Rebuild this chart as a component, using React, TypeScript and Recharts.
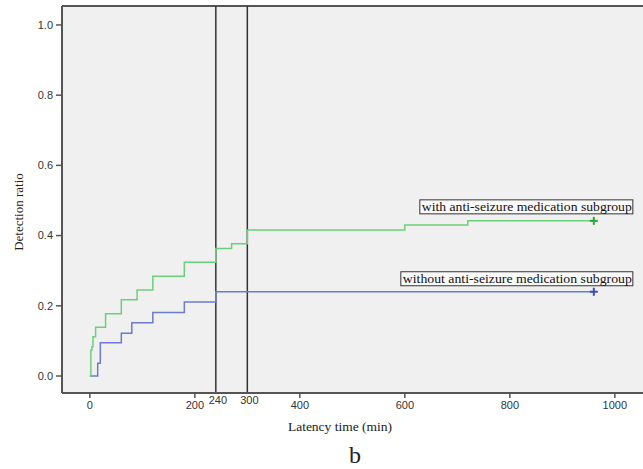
import { ComposedChart, Line, XAxis, YAxis, CartesianGrid, ReferenceLine, ReferenceDot } from "recharts";

// Kaplan-Meier style cumulative detection
const withMedTimes = [0, 2, 4, 6, 11, 30, 60, 90, 120, 180, 240, 270, 300, 600, 720, 960];
const withMedRatio = [0, 0.074, 0.083, 0.112, 0.139, 0.177, 0.217, 0.245, 0.284, 0.324, 0.363, 0.377, 0.416, 0.43, 0.442, 0.442];
const withoutMedTimes = [0, 15, 20, 60, 80, 120, 180, 240, 960];
const withoutMedRatio = [0, 0.036, 0.095, 0.122, 0.152, 0.181, 0.211, 0.24, 0.24];

const xTicks = [0, 200, 240, 300, 400, 600, 800, 1000];
const markedTimes = [240, 300];
const yTicks = [0, 0.2, 0.4, 0.6, 0.8, 1.0];

const X_MIN = -53;
const X_MAX = 1067;
const Y_MIN = -0.0484;
const Y_MAX = 1.054;

const withMed = withMedTimes.map((t, i) => ({ t, r: withMedRatio[i] }));
const withoutMed = withoutMedTimes.map((t, i) => ({ t, r: withoutMedRatio[i] }));

const GREEN = "#6ccf7a";
const GREEN_DARK = "#2aa83a";
const BLUE = "#6a7ccb";
const BLUE_DARK = "#3a4fb0";
const AXIS = "#555";

const censorDot = (len: number, color: string) => (p: any) => {
  if (p.index !== len - 1) return <g key={p.index} />;
  return (
    <g key={p.index} stroke={color} strokeWidth={2}>
      <line x1={p.cx - 4} x2={p.cx + 4} y1={p.cy} y2={p.cy} />
      <line x1={p.cx} x2={p.cx} y1={p.cy - 4} y2={p.cy + 4} />
    </g>
  );
};

const boxLabel = (text: string, left: number, width: number, top: number) => (p: any) => (
  <g>
    <rect x={p.cx - left} y={p.cy - top} width={width} height={14} fill="#fafafa" stroke="#333" strokeWidth={1} />
    <text
      x={p.cx - left + 2}
      y={p.cy - top + 11}
      fontFamily="'Liberation Serif', serif"
      fontSize={12}
      fill="#111"
      textLength={width - 3}
      lengthAdjust="spacingAndGlyphs"
    >
      {text}
    </text>
  </g>
);

const XTick = (p: any) => {
  const v = p.payload.value;
  const marked = markedTimes.includes(v);
  return (
    <g>
      {!marked && <line x1={p.x} x2={p.x} y1={p.y} y2={p.y + 5} stroke={AXIS} strokeWidth={1.5} />}
      <text
        x={p.x + (marked ? 2 : 0)}
        y={p.y + (marked ? 11 : 16)}
        textAnchor="middle"
        fontFamily="'Liberation Sans', Arial, sans-serif"
        fontSize={11}
        fill="#333"
      >
        {v}
      </text>
    </g>
  );
};

export default function App() {
  return (
    <div style={{ position: "absolute", left: 0, top: 0, width: 643, height: 469, overflow: "hidden", background: "#fff" }}>
      <ComposedChart width={700} height={469} margin={{ top: 6, right: 50, bottom: 0, left: 0 }}>
        <CartesianGrid horizontal={false} vertical={false} fill="#f0f0f0" />
        <XAxis
          dataKey="t"
          type="number"
          domain={[X_MIN, X_MAX]}
          allowDataOverflow
          ticks={xTicks}
          interval={0}
          height={76}
          tickSize={0}
          tickMargin={0}
          tickLine={false}
          tick={<XTick />}
          axisLine={{ stroke: AXIS, strokeWidth: 2 }}
          label={{
            content: () => (
              <g fontFamily="'Liberation Serif', serif" fill="#222">
                <text x={340} y={431} textAnchor="middle" fontSize={13.5}>Latency time (min)</text>
                <text x={355} y={463} textAnchor="middle" fontSize={24}>b</text>
              </g>
            ),
          }}
        />
        <YAxis
          type="number"
          domain={[Y_MIN, Y_MAX]}
          allowDataOverflow
          ticks={yTicks}
          interval={0}
          width={62}
          tickSize={6}
          tickMargin={3}
          tickFormatter={(v: number) => v.toFixed(1)}
          tick={{ fontFamily: "'Liberation Sans', Arial, sans-serif", fontSize: 11, fill: "#333" }}
          tickLine={{ stroke: AXIS, strokeWidth: 1.5 }}
          axisLine={{ stroke: AXIS, strokeWidth: 2 }}
          label={{
            content: () => (
              <text
                x={23}
                y={212}
                transform="rotate(-90, 23, 212)"
                textAnchor="middle"
                fontFamily="'Liberation Serif', serif"
                fontSize={13}
                fill="#222"
              >
                Detection ratio
              </text>
            ),
          }}
        />
        <ReferenceLine y={Y_MAX} stroke={AXIS} strokeWidth={2} ifOverflow="visible" />
        <ReferenceLine x={240} stroke="#333" strokeWidth={1.5} />
        <ReferenceLine x={300} stroke="#333" strokeWidth={1.5} />
        <Line
          data={withoutMed}
          dataKey="r"
          type="stepAfter"
          stroke={BLUE}
          strokeWidth={1.5}
          dot={censorDot(withoutMed.length, BLUE_DARK)}
          activeDot={false}
          isAnimationActive={false}
        />
        <Line
          data={withMed}
          dataKey="r"
          type="stepAfter"
          stroke={GREEN}
          strokeWidth={1.5}
          dot={censorDot(withMed.length, GREEN_DARK)}
          activeDot={false}
          isAnimationActive={false}
        />
        <ReferenceDot x={960} y={0.442} r={0} shape={boxLabel("with anti-seizure medication subgroup", 174, 213, 21)} />
        <ReferenceDot x={960} y={0.24} r={0} shape={boxLabel("without anti-seizure medication subgroup", 193, 232, 20)} />
      </ComposedChart>
    </div>
  );
}
